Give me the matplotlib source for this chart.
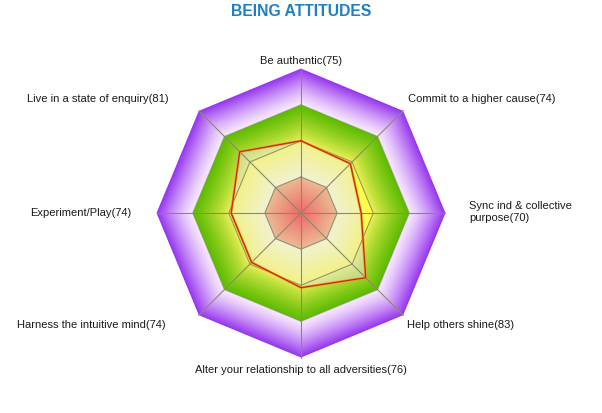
import numpy as np
import matplotlib
matplotlib.use("Agg")
import matplotlib.pyplot as plt
from matplotlib.colors import to_rgb

plt.rcParams['font.family'] = ['Liberation Sans', 'DejaVu Sans']

# chart data
categories = ["Be authentic", "Commit to a higher cause", "Sync ind & collective\npurpose",
              "Help others shine", "Alter your relationship to all adversities",
              "Harness the intuitive mind", "Experiment/Play", "Live in a state of enquiry"]
scores = [75, 74, 70, 83, 76, 74, 74, 81]
band_limits = [45, 60, 75, 90, 105]

# styling
band_colors = [("#ff0000", "#f29a50"), ("#ffffc4", "#ffff3c"),
               ("#f2f25a", "#5cbc00"), ("#f8e8ff", "#9636ee")]
band_gamma = [1.0, 1.0, 0.8, 1.3]
label_place = [("center", 0, 9), ("left", 5, 13), ("left", 24, 2), ("left", 4, -9),
               ("center", 0, -11), ("right", -33, -9), ("right", -25, 1), ("right", -30, 13)]
grid_col = "#8a8a6a"


def mix(c1, c2, t):
    a = np.array(to_rgb(c1))
    b = np.array(to_rgb(c2))
    return tuple(a + (b - a) * t)


def ring(theta, r):
    th = np.append(theta, theta[0])
    return th, np.full(len(th), r)


def main():
    n = len(categories)
    theta = np.arange(n) * 2 * np.pi / n

    fig = plt.figure(figsize=(6.02, 4.14), dpi=100)
    ax = fig.add_axes([0.26, 0.134, 0.48, 0.698], projection='polar')
    ax.set_theta_zero_location('N')
    ax.set_theta_direction(-1)
    ax.set_rlim(band_limits[0], band_limits[-1])
    ax.grid(False)
    ax.set_xticks([])
    ax.set_yticks([])
    ax.spines['polar'].set_visible(False)
    ax.patch.set_visible(False)

    # gradient bands, outer first
    for i in reversed(range(len(band_limits) - 1)):
        lo, hi = band_limits[i], band_limits[i + 1]
        c_in, c_out = band_colors[i]
        for r in np.linspace(hi, lo, 45):
            t = ((r - lo) / (hi - lo)) ** band_gamma[i]
            ax.fill(*ring(theta, r), color=mix(c_in, c_out, t), lw=0, zorder=1, clip_on=False)

    # series fill
    th, _ = ring(theta, 0)
    vals = scores + scores[:1]
    ax.fill(th, vals, color="#e2e2e6", alpha=0.45, lw=0, zorder=2, clip_on=False)

    # grid octagons and spokes
    for r, a in zip(band_limits[1:4], [0.9, 0.9, 0.5]):
        ax.plot(*ring(theta, r), color=grid_col, lw=0.8, alpha=a, zorder=3, clip_on=False)
    for t in theta:
        ax.plot([t, t], [band_limits[0], band_limits[-1]], color=grid_col, lw=0.8, zorder=3,
                clip_on=False)

    # series line
    ax.plot(th, vals, color="#ec8a2a", lw=1.7, zorder=4, clip_on=False)
    ax.plot(th, vals, color="#c42000", lw=0.7, zorder=5, clip_on=False)

    for t, cat, s, (ha, dx, dy) in zip(theta, categories, scores, label_place):
        ax.annotate(f"{cat}({s})", xy=(t, band_limits[-1]), xytext=(dx, dy),
                    textcoords='offset pixels', ha=ha, va='center', fontsize=8,
                    color="#1a1a1a", annotation_clip=False)

    fig.text(0.5, 1 - 11 / 414, "BEING ATTITUDES", ha='center', va='center',
             fontsize=11.3, fontweight='bold', color="#1f7fc4")

    fig.savefig("out.png", dpi=100)


if __name__ == "__main__":
    main()
